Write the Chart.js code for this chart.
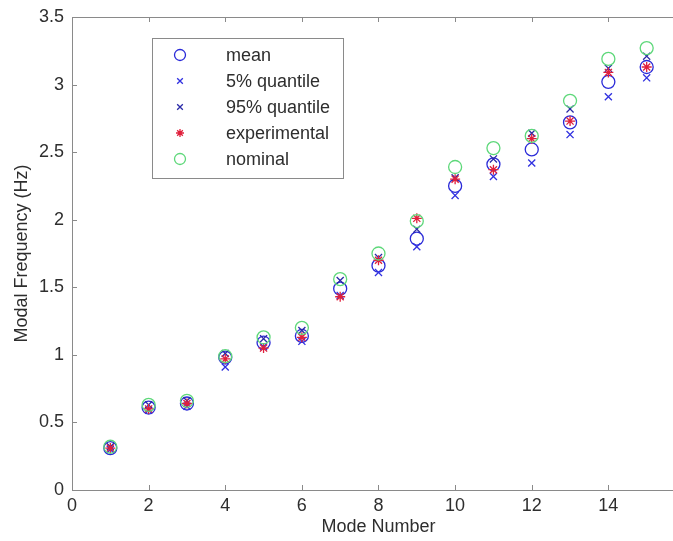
<!DOCTYPE html>
<html>
<head>
<meta charset="utf-8">
<script src="https://cdn.jsdelivr.net/npm/chart.js@4/dist/chart.umd.min.js"></script>
<style>
html,body{margin:0;padding:0;background:#fff;overflow:hidden;width:673px;height:541px;}
#wrap{position:relative;width:700px;height:541px;}
</style>
</head>
<body>
<div id="wrap"><canvas id="c" width="700" height="541"></canvas></div>
<script>
const modes = [1,2,3,4,5,6,7,8,9,10,11,12,13,14,15];
const meanVals  = [0.31,0.61,0.64,0.98,1.09,1.14,1.49,1.66,1.86,2.25,2.41,2.52,2.72,3.02,3.13];
const q5Vals    = [0.30,0.59,0.62,0.91,1.06,1.10,1.44,1.61,1.80,2.18,2.32,2.42,2.63,2.91,3.05];
const q95Vals   = [0.32,0.63,0.66,1.01,1.12,1.18,1.55,1.72,1.93,2.31,2.45,2.64,2.82,3.12,3.21];
const expVals   = [0.31,0.60,0.64,0.97,1.05,1.13,1.43,1.70,2.01,2.30,2.37,2.60,2.73,3.09,3.13];
const nomVals   = [0.32,0.63,0.66,0.99,1.13,1.20,1.56,1.75,1.99,2.39,2.53,2.62,2.88,3.19,3.27];
const xTicks = [0,2,4,6,8,10,12,14,16];
const yTicks = [0,0.5,1,1.5,2,2.5,3,3.5];
const labels = ['mean','5% quantile','95% quantile','experimental','nominal'];

const pts = vals => modes.map((m,i)=>({x:m,y:vals[i]}));
const FONT = '"Liberation Sans", Arial, sans-serif';
const FS = 18;
const TXT = '#2e2e2e';
const AX = '#8a8a8a';

const styles = [
  {style:'circle',  color:'#2a2ad8', r:6.5, order:5},
  {style:'crossRot',color:'#3030e0', r:5,   order:4},
  {style:'crossRot',color:'#2a2aa8', r:5,   order:3},
  {style:'star',    color:'#e0203c', r:5,   order:2},
  {style:'circle',  color:'#5ed87a', r:6.5, order:1}
];
const seriesVals = [meanVals,q5Vals,q95Vals,expVals,nomVals];

const datasets = seriesVals.map((v,i)=>({
  label: labels[i],
  data: pts(v),
  pointStyle: styles[i].style,
  pointRadius: styles[i].r,
  pointHoverRadius: styles[i].r,
  pointBorderColor: styles[i].color,
  pointBackgroundColor: 'rgba(0,0,0,0)',
  pointBorderWidth: 1.3,
  showLine: false,
  order: styles[i].order
}));

const framePlugin = {
  id:'frame',
  afterDraw(chart){
    const ctx = chart.ctx, a = chart.chartArea;
    const xs = chart.scales.x, ys = chart.scales.y;
    ctx.save();
    ctx.strokeStyle = AX; ctx.lineWidth = 1;
    ctx.beginPath();
    ctx.moveTo(a.right+0.5, a.bottom+0.5); ctx.lineTo(a.left+0.5, a.bottom+0.5);
    ctx.lineTo(a.left+0.5, a.top+0.5); ctx.lineTo(a.right+0.5, a.top+0.5);
    ctx.stroke();
    const tl = 5;
    ctx.beginPath();
    xTicks.forEach(t=>{
      const px = Math.round(xs.getPixelForValue(t))+0.5;
      ctx.moveTo(px, a.bottom); ctx.lineTo(px, a.bottom-tl);
      ctx.moveTo(px, a.top); ctx.lineTo(px, a.top+tl);
    });
    yTicks.forEach(t=>{
      const py = Math.round(ys.getPixelForValue(t))+0.5;
      ctx.moveTo(a.left, py); ctx.lineTo(a.left+tl, py);
    });
    ctx.stroke();

    // legend box
    const bx=152, by=38, bw=191, bh=140;
    ctx.fillStyle='#fff';
    ctx.fillRect(bx,by,bw,bh);
    ctx.strokeStyle='#8a8a8a';
    ctx.strokeRect(bx+0.5,by+0.5,bw,bh);
    chart.data.datasets.forEach((ds,i)=>{
      const y = by+17+i*26;
      ctx.save();
      ctx.strokeStyle = ds.pointBorderColor;
      ctx.fillStyle = 'rgba(0,0,0,0)';
      ctx.lineWidth = 1.3;
      Chart.helpers.drawPoint(ctx,{pointStyle:ds.pointStyle,radius:ds.pointStyle==='circle'?5.5:4,rotation:0,borderWidth:1.3},180,y);
      ctx.restore();
      ctx.fillStyle = TXT;
      ctx.font = FS+'px '+FONT;
      ctx.textBaseline='middle';
      ctx.textAlign='left';
      ctx.fillText(ds.label, 226, y+1);
    });
    ctx.restore();
  }
};

new Chart(document.getElementById('c'), {
  type:'scatter',
  data:{datasets},
  options:{
    responsive:false,
    animation:false,
    devicePixelRatio:1,
    layout:{padding:{left:0,top:17,right:14,bottom:0}},
    plugins:{legend:{display:false},tooltip:{enabled:false}},
    scales:{
      x:{
        type:'linear', min:0, max:16,
        afterBuildTicks: s => { s.ticks = xTicks.map(v=>({value:v})); },
        afterFit: s => { s.height = 51; },
        grid:{display:false, drawTicks:false},
        border:{display:false},
        ticks:{color:TXT, font:{family:FONT,size:FS}, padding:5, maxRotation:0, callback:v=>String(v)},
        title:{display:true, text:'Mode Number', color:TXT, font:{family:FONT,size:FS}, padding:{top:0,bottom:3}}
      },
      y:{
        type:'linear', min:0, max:3.5,
        afterBuildTicks: s => { s.ticks = yTicks.map(v=>({value:v})); },
        afterFit: s => { s.width = 72; s.paddingTop = 0; s.paddingBottom = 0; },
        grid:{display:false, drawTicks:false},
        border:{display:false},
        ticks:{color:TXT, font:{family:FONT,size:FS,lineHeight:1}, padding:8, callback:v=>String(v)},
        title:{display:true, text:'Modal Frequency (Hz)', color:TXT, font:{family:FONT,size:FS}, padding:{top:11,bottom:0}}
      }
    }
  },
  plugins:[framePlugin]
});
</script>
</body>
</html>
